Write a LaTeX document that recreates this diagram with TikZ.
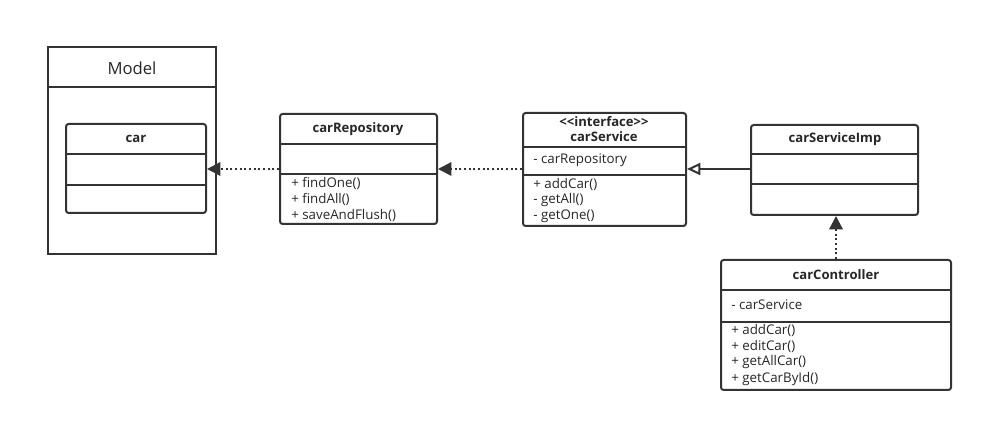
\documentclass[tikz,border=0pt]{standalone}
\usepackage{fontspec}
\setmainfont{Open Sans}
\usetikzlibrary{arrows.meta,fit}
\definecolor{umlgray}{HTML}{333333}
\tikzset{
  classbox/.style={draw=umlgray, line width=1.5pt, rounded corners=2pt, inner sep=0pt},
  pkgbox/.style={draw=umlgray, line width=1.5pt, inner sep=0pt},
  sepline/.style={draw=umlgray, line width=1.3pt},
  classname/.style={font=\bfseries\fontsize{9.8}{10}\selectfont, inner sep=0pt, text=black!85},
  member/.style={font=\fontsize{10}{10}\selectfont, anchor=west, inner sep=0pt, text=black!85},
  depend/.style={umlgray, line width=1.5pt, dotted, -{Triangle[length=10pt,width=10pt]}},
  realize/.style={umlgray, line width=1.5pt, -{Triangle[open,length=10pt,width=9pt]}}
}
\begin{document}
\begin{tikzpicture}[x=0.75pt,y=-0.75pt]
		\useasboundingbox (0,0) rectangle (983,423);
		
		%%% Model package
		\node[pkgbox, fit={(48,47) (216,254)}] (model) {};
		\draw[sepline] (48,87) -- (216,87);
		\node[font=\fontsize{12.5}{14}\selectfont, text=black!85] (modeltitle) at (132,68) {Model};
		
		\node[classbox, fit={(66,124) (206,213)}] (car) {};
		\draw[sepline] (66,154) -- (206,154);
		\draw[sepline] (66,185) -- (206,185);
		\node[classname] (cartitle) at (136,139) {car};
		
		%%% carRepository
		\node[classbox, fit={(280,114) (437,224)}] (repo) {};
		\draw[sepline] (280,144) -- (437,144);
		\draw[sepline] (280,174) -- (437,174);
		\node[classname] (repotitle) at (358,129) {carRepository};
		\node[member] (repoa) at (291,183) {+ findOne()};
		\node[member] (repob) at (291,199) {+ findAll()};
		\node[member] (repoc) at (291,215) {+ saveAndFlush()};
		
		%%% carService
		\node[classbox, fit={(523,113) (686,226)}] (service) {};
		\draw[sepline] (523,147) -- (686,147);
		\draw[sepline] (523,175) -- (686,175);
		\node[classname] (servicestereo) at (604,122) {<{}<interface>{}>};
		\node[classname] (servicetitle) at (604,137) {carService};
		\node[member] (servicefield) at (533,160) {- carRepository};
		\node[member] (servicea) at (533,184) {+ addCar()};
		\node[member] (serviceb) at (533,200) {- getAll()};
		\node[member] (servicec) at (533,216) {- getOne()};
		
		%%% carServiceImp
		\node[classbox, fit={(751,125) (918,215)}] (imp) {};
		\draw[sepline] (751,154) -- (918,154);
		\draw[sepline] (751,184) -- (918,184);
		\node[classname] (imptitle) at (835,139) {carServiceImp};
		
		%%% carController
		\node[classbox, fit={(721,260) (951,390)}] (ctrl) {};
		\draw[sepline] (721,290) -- (951,290);
		\draw[sepline] (721,322) -- (951,322);
		\node[classname] (ctrltitle) at (836,275) {carController};
		\node[member] (ctrlfield) at (731,305) {- carService};
		\node[member] (ctrla) at (731,330) {+ addCar()};
		\node[member] (ctrlb) at (731,346) {+ editCar()};
		\node[member] (ctrlc) at (731,362) {+ getAllCar()};
		\node[member] (ctrld) at (731,379) {+ getCarById()};
		
		%%% connectors
		\draw[depend] (repo.west |- 0,169) -- (car.east |- 0,169);
		\draw[depend] (service.west |- 0,169) -- (repo.east |- 0,169);
		\draw[realize] (imp.west |- 0,169) -- (service.east |- 0,169);
		\draw[depend] (ctrl.north -| 836,0) -- (imp.south -| 836,0);
		
\end{tikzpicture}
\end{document}
